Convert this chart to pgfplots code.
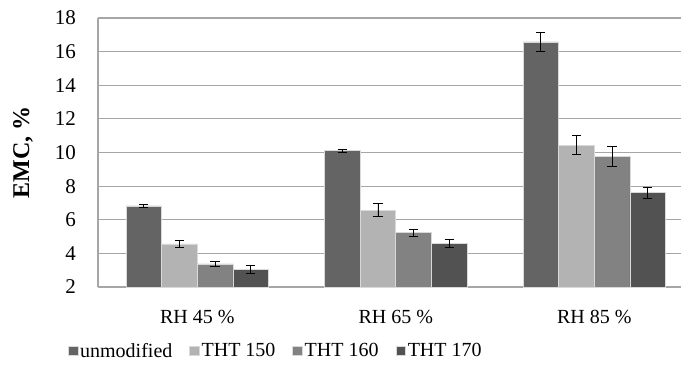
\documentclass[border=0pt]{standalone}
\usepackage{pgfplots}
\pgfplotsset{compat=1.18}
\usepackage{pgfplotstable}
\usepackage{fontspec}
\setmainfont{Liberation Serif}
\definecolor{cU}{HTML}{646464}
\definecolor{cA}{HTML}{B3B3B3}
\definecolor{cB}{HTML}{828282}
\definecolor{cC}{HTML}{525252}
\definecolor{gridc}{HTML}{A6A6A6}
\pgfplotstableread{
x y e
0 6.82 0.10
1 10.11 0.10
2 16.58 0.57
}\tU
\pgfplotstableread{
x y e
0 4.56 0.20
1 6.58 0.40
2 10.43 0.57
}\tA
\pgfplotstableread{
x y e
0 3.37 0.15
1 5.23 0.20
2 9.76 0.58
}\tB
\pgfplotstableread{
x y e
0 3.05 0.25
1 4.60 0.25
2 7.61 0.33
}\tC
\begin{document}
\begin{tikzpicture}
\begin{axis}[
  name=ax,
  scale only axis,
  width=583pt, height=269pt,
  ybar=0pt, bar width=35.6pt,
  xmin=-0.5, xmax=2.437,
  ymin=2, ymax=18,
  ytick={2,4,...,18},
  yticklabels={2,4,6,8,10,12,14,16,18},
  yticklabel style={anchor=east, inner sep=0pt, font=\fontsize{21}{23}\selectfont},
  xtick={0,1,2},
  xticklabels={RH 45 \%, RH 65 \%, RH 85 \%},
  tick align=outside,
  major tick length=22pt,
  major tick style={draw=none},
  axis line style={draw=gridc, line width=1.2pt},
  axis x line*=bottom,
  axis y line*=left,
  ymajorgrids,
  grid style={draw=gridc, line width=1.2pt},
  xticklabel style={font=\fontsize{20}{22}\selectfont},
  xticklabel shift=-2pt,
  ylabel={\textbf{EMC, \%}},
  every axis y label/.style={at={(rel axis cs:0,0.5)}, rotate=90, anchor=center, yshift=75pt, font=\fontsize{24}{26}\selectfont},
  legend style={at={(rel axis cs:0.305,-0.2)}, anchor=north, draw=none, fill=none,
    font=\fontsize{20}{22}\selectfont, legend columns=4,
    /tikz/every even column/.append style={column sep=15pt},
    inner sep=0pt},
  legend image code/.code={\fill[#1] (0pt,-4.8pt) rectangle (9.6pt,4.8pt);},
  error bars/y dir=both, error bars/y explicit,
  error bars/error bar style={black, line width=0.9pt},
  error bars/error mark options={rotate=90, black, mark size=4.6pt, line width=0.9pt},
  every axis plot/.append style={draw=white!85!black, line width=0.6pt},
  clip=false,
]
\addplot[fill=cU] table[x=x,y=y,y error=e]{\tU};
\addplot[fill=cA] table[x=x,y=y,y error=e]{\tA};
\addplot[fill=cB] table[x=x,y=y,y error=e]{\tB};
\addplot[fill=cC] table[x=x,y=y,y error=e]{\tC};
\legend{unmodified, THT 150, THT 160, THT 170}
\end{axis}
\pgfresetboundingbox
\path[use as bounding box] ([xshift=-98pt,yshift=-77pt]ax.south west) rectangle ([yshift=18pt]ax.north east);
\end{tikzpicture}
\end{document}
